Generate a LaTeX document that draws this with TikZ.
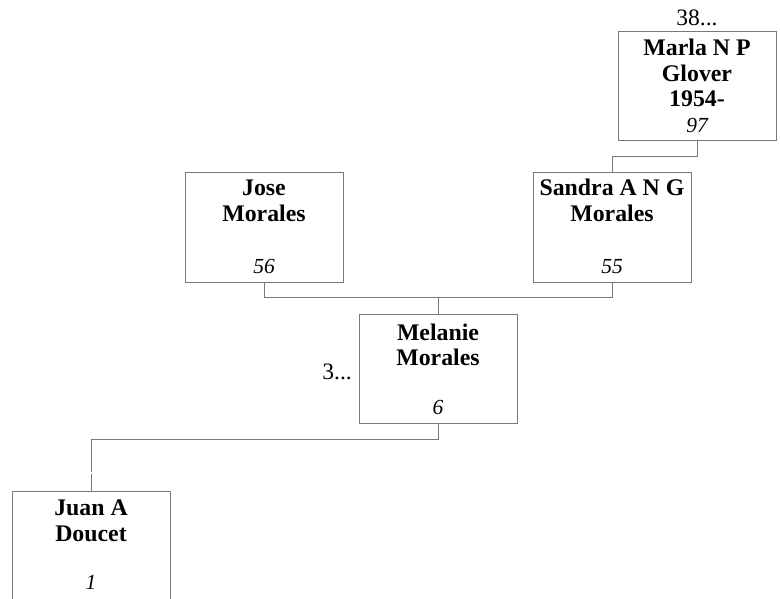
\documentclass[tikz,border=0pt]{standalone}
\usepackage{fontspec}
\setmainfont{Liberation Serif}
\begin{document}
\begin{tikzpicture}[x=1pt,y=-1pt,
  box/.style={draw=gray!95!black, line width=1pt, minimum width=158pt, minimum height=109pt, inner sep=0pt},
  conn/.style={draw=gray!95!black, line width=1pt},
  nm/.style={anchor=base, inner sep=0pt, font=\fontsize{23.8}{26}\selectfont\bfseries},
  num/.style={anchor=base, inner sep=0pt, font=\fontsize{21.5}{24}\selectfont\itshape},
  more/.style={inner sep=0pt, font=\fontsize{23.5}{27}\selectfont}]
\useasboundingbox (0,0) rectangle (780,599);
\clip (0,0) rectangle (780,599);
% boxes
\node[box] (marla) at (697,86.5) {};
\node[box] (sandra) at (612,227.5) {};
\node[box] (jose) at (264,227.5) {};
\node[box] (melanie) at (438,369) {};
\node[box] (juan) at (91,545.5) {};
% texts
\node[more, anchor=base] (marlamore) at (697,26) {38...};
\node[nm] (marla1) at (697,56) {Marla N P};
\node[nm] (marla2) at (697,82) {Glover};
\node[nm] (marla3) at (697,107) {1954-};
\node[num] (marla4) at (697,133) {97};
\node[nm] (sandra1) at (612,196) {Sandra A N G};
\node[nm] (sandra2) at (612,222) {Morales};
\node[num] (sandra3) at (612,273) {55};
\node[nm] (jose1) at (264,196) {Jose};
\node[nm] (jose2) at (264,222) {Morales};
\node[num] (jose3) at (264,273) {56};
\node[more, anchor=base east] (melmore) at (352,379) {3...};
\node[nm] (mel1) at (438,340) {Melanie};
\node[nm] (mel2) at (438,365) {Morales};
\node[num] (mel3) at (438,414) {6};
\node[nm] (juan1) at (91,515) {Juan A};
\node[nm] (juan2) at (91,541) {Doucet};
\node[num] (juan3) at (91,589) {1};
% connectors
\coordinate (mj) at (612,157);
\coordinate (fam) at (438,297);
\coordinate (kid) at (91,439);
\coordinate (gapa) at (91,472.3);
\coordinate (gapb) at (91,473.7);
\draw[conn] (marla.south) |- (mj) -- (sandra.north);
\draw[conn] (jose.south) |- (fam);
\draw[conn] (sandra.south) |- (fam);
\draw[conn] (fam) -- (melanie.north);
\draw[conn] (melanie.south) |- (kid) -- (gapa);
\draw[conn] (gapb) -- (juan.north);
\end{tikzpicture}
\end{document}
